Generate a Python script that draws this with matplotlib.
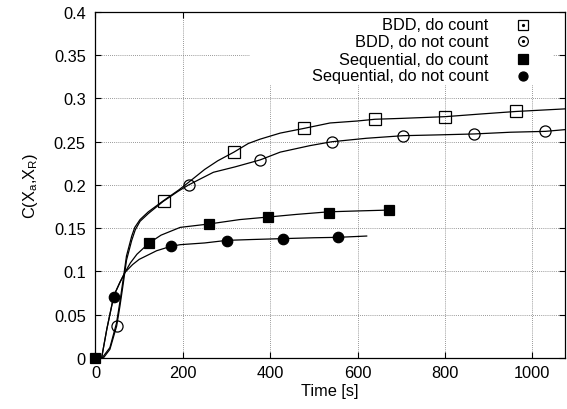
import matplotlib
matplotlib.use("Agg")
import matplotlib.pyplot as plt
from matplotlib.patches import Rectangle

plt.rcParams['font.family'] = ['Liberation Sans', 'DejaVu Sans']
plt.rcParams['font.size'] = 11.8
plt.rcParams['mathtext.fontset'] = 'custom'
plt.rcParams['mathtext.rm'] = 'Liberation Sans'

# series labels
labels = ["BDD, do count", "BDD, do not count",
          "Sequential, do count", "Sequential, do not count"]

# curves (time [s], C)
bdd_cnt_x = [0, 15, 33, 48, 56, 64, 71, 83, 90, 102, 121, 156, 190, 213, 250, 280, 317,
             350, 377, 423, 478, 537, 600, 640, 700, 801, 880, 963, 1075]
bdd_cnt_y = [0, 0, 0.012, 0.040, 0.065, 0.093, 0.118, 0.141, 0.151, 0.160, 0.169, 0.182,
             0.194, 0.203, 0.218, 0.228, 0.238, 0.248, 0.253, 0.260, 0.2655, 0.2717,
             0.274, 0.276, 0.277, 0.279, 0.282, 0.285, 0.288]

bdd_nc_x = [0, 18, 33, 48.5, 56, 64, 71, 83, 91, 102, 121, 155, 190, 213, 240, 270, 320,
            377, 423, 491, 541, 620, 704, 790, 867, 950, 1030, 1075]
bdd_nc_y = [0, 0, 0.010, 0.037, 0.060, 0.0875, 0.113, 0.136, 0.148, 0.158, 0.167, 0.181,
            0.193, 0.200, 0.207, 0.2147, 0.221, 0.229, 0.238, 0.2455, 0.250, 0.254,
            0.257, 0.258, 0.259, 0.261, 0.262, 0.264]

seq_cnt_x = [0, 14, 26, 42, 56, 67.6, 80, 95, 110, 123, 150, 194, 261, 330, 396, 460,
             534, 600, 671]
seq_cnt_y = [0, 0, 0.0335, 0.072, 0.0875, 0.099, 0.110, 0.120, 0.127, 0.133, 0.142,
             0.151, 0.155, 0.160, 0.163, 0.166, 0.169, 0.170, 0.171]

seq_nc_x = [0, 14, 26, 42, 56, 67.6, 85, 100, 120, 140, 172, 194, 250, 301, 360, 429,
            500, 556, 621]
seq_nc_y = [0, 0, 0.0335, 0.072, 0.0875, 0.099, 0.108, 0.114, 0.119, 0.124, 0.129,
            0.131, 0.133, 0.136, 0.137, 0.138, 0.139, 0.1395, 0.141]

# marker points
bdd_cnt_mx = [156, 317, 478, 640, 801, 963]
bdd_cnt_my = [0.182, 0.238, 0.2655, 0.276, 0.279, 0.285]
bdd_nc_mx = [48.5, 213, 377, 541, 704, 867, 1030]
bdd_nc_my = [0.037, 0.200, 0.229, 0.250, 0.257, 0.259, 0.262]
seq_cnt_mx = [0, 123, 261, 396, 534, 671]
seq_cnt_my = [0, 0.133, 0.155, 0.163, 0.168, 0.171]
seq_nc_mx = [43, 172, 301, 429, 556]
seq_nc_my = [0.071, 0.129, 0.1356, 0.1376, 0.1395]

xticks = [0, 200, 400, 600, 800, 1000]
yticks = [0, 0.05, 0.1, 0.15, 0.2, 0.25, 0.3, 0.35, 0.4]
ytick_labels = ["0", "0.05", "0.1", "0.15", "0.2", "0.25", "0.3", "0.35", "0.4"]

fig = plt.figure(figsize=(5.67, 4.10), dpi=100)
ax = fig.add_axes([0.1684, 0.1244, 0.8280, 0.8439])

curves = [(bdd_cnt_x, bdd_cnt_y), (bdd_nc_x, bdd_nc_y),
          (seq_cnt_x, seq_cnt_y), (seq_nc_x, seq_nc_y)]
marks = [(bdd_cnt_mx, bdd_cnt_my), (bdd_nc_mx, bdd_nc_my),
         (seq_cnt_mx, seq_cnt_my), (seq_nc_mx, seq_nc_my)]
styles = [dict(marker='s', mfc='none', ms=8),
          dict(marker='o', mfc='none', ms=8),
          dict(marker='s', mfc='black', ms=7.5),
          dict(marker='o', mfc='black', ms=7.5)]

for (cx, cy), (mx, my), st in zip(curves, marks, styles):
    ax.plot(cx, cy, color='black', lw=0.9, zorder=3)
    ax.plot(mx, my, ls='none', mec='black', mew=0.9, zorder=4, clip_on=False, **st)

ax.set_xlim(0, 1075)
ax.set_ylim(0, 0.4)
ax.set_xticks(xticks)
ax.set_yticks(yticks)
ax.set_yticklabels(ytick_labels)
ax.tick_params(direction='in', top=True, right=True, length=4, width=0.8)
ax.tick_params(axis='x', pad=5)
ax.tick_params(axis='y', pad=7)
ax.grid(True, color='#777777', linestyle=(0, (1, 1.5)), linewidth=0.6)
ax.set_axisbelow(True)
for s in ax.spines.values():
    s.set_linewidth(0.9)

ax.set_xlabel("Time [s]", labelpad=2)
ax.set_ylabel(r"C(X$_\mathrm{a}$,X$_\mathrm{R}$)", labelpad=10)

# gnuplot-style key: blank box, right-aligned text, marker sample
ax.add_patch(Rectangle((0.329, 0.789), 0.645, 0.211, transform=ax.transAxes,
                       facecolor='white', edgecolor='none', zorder=2))
rows = [0.963, 0.915, 0.864, 0.816]
for i, (lab, st, ry) in enumerate(zip(labels, styles, rows)):
    ax.text(0.837, ry, lab, transform=ax.transAxes, ha='right', va='center', zorder=5)
    ax.plot([0.911], [ry], transform=ax.transAxes, ls='none', mec='black', mew=0.9,
            zorder=5, **dict(st, ms=st['ms'] - 1))
    if i < 2:
        ax.plot([0.911], [ry], transform=ax.transAxes, ls='none', marker='o',
                ms=1.3, color='black', zorder=6)

fig.savefig("out.png", dpi=100)
